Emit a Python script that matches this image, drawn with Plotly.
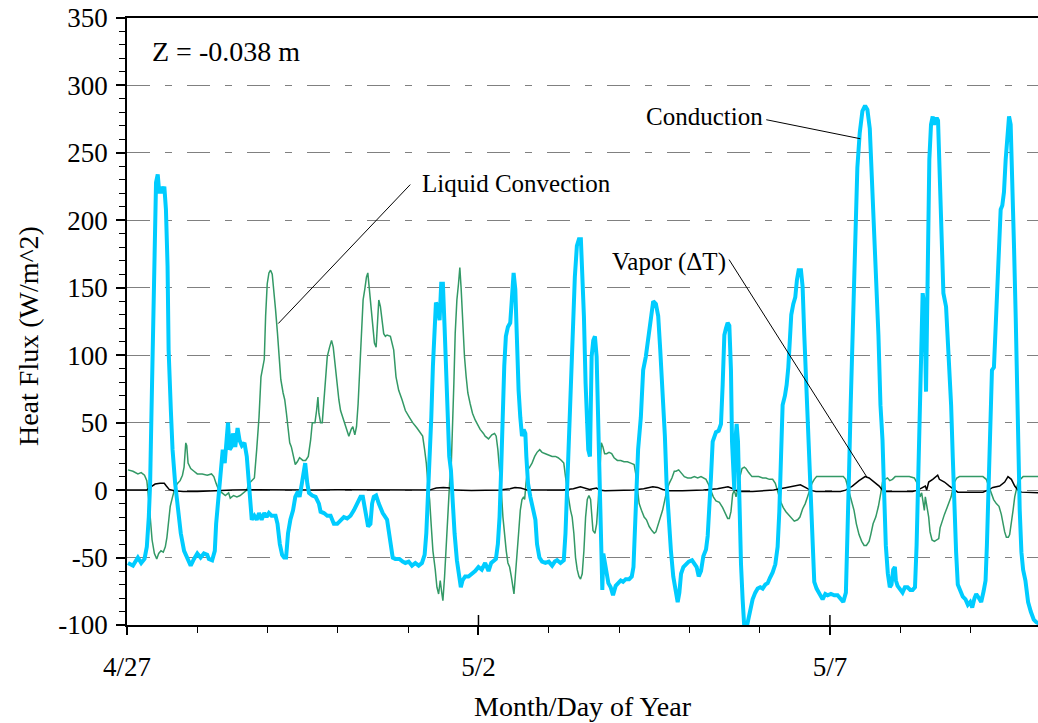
import plotly.graph_objects as go

# ---------------- data (days after 4/27 00:00, heat flux W/m^2) ----------------
cond_day = [0.014,0.085,0.155,0.202,0.249,0.282,0.31,0.329,0.347,0.366,0.38,0.394,0.413,0.437,0.46,0.484,0.507,0.531,0.554,0.577,0.592,0.624,0.648,0.685,0.718,0.765,0.812,0.859,0.906,0.953,1.0,1.047,1.094,1.141,1.164,1.211,1.249,1.268,1.296,1.329,1.362,1.39,1.413,1.437,1.46,1.484,1.507,1.54,1.573,1.601,1.634,1.671,1.704,1.728,1.751,1.775,1.812,1.845,1.878,1.915,1.953,1.986,2.019,2.056,2.113,2.141,2.174,2.207,2.235,2.263,2.291,2.324,2.362,2.394,2.432,2.455,2.488,2.516,2.535,
            2.565,2.589,2.636,2.683,2.73,2.754,2.801,2.849,2.896,2.943,2.991,3.038,3.085,3.132,3.18,3.227,3.274,3.322,3.355,3.392,3.43,3.463,3.487,3.511,3.544,3.582,3.638,3.7,3.747,3.78,3.818,3.875,3.922,3.96,4.007,4.054,4.102,4.149,4.196,4.234,4.258,4.281,4.3,4.329,4.352,4.376,4.395,4.423,4.447,4.47,4.494,4.518,4.541,4.565,4.584,4.608,4.631,4.66,4.693,4.726,4.749,4.773,4.811,4.858,4.905,4.953,5.0,5.047,
            5.095,5.143,5.181,5.214,5.248,5.276,5.3,5.324,5.343,5.367,5.39,5.419,5.452,5.476,5.5,5.524,5.548,5.571,5.595,5.619,5.643,5.667,5.681,5.705,5.738,5.776,5.81,5.833,5.867,5.905,5.952,6.0,6.048,6.086,6.119,6.167,6.214,6.238,6.262,6.286,6.314,6.343,6.371,6.4,6.429,6.457,6.476,6.5,6.524,6.543,6.562,6.586,6.61,6.633,6.657,6.681,6.705,6.729,6.748,6.762,6.776,6.8,6.824,6.848,6.881,6.914,6.952,6.99,7.024,7.057,7.095,7.143,7.181,7.205,7.224,7.248,7.271,7.31,7.343,7.381,7.419,7.452,7.486,7.524,7.557,7.586,7.619,7.652,7.676,7.705,7.738,7.771,7.81,
            7.834,7.858,7.882,7.915,7.953,7.991,8.038,8.071,8.104,8.133,8.166,8.199,8.237,8.261,8.284,8.308,8.332,8.355,8.379,8.417,8.45,8.474,8.498,8.521,8.545,8.569,8.592,8.607,8.626,8.64,8.654,8.673,8.692,8.711,8.735,8.758,8.782,8.806,8.829,8.853,8.877,8.9,8.938,8.972,9.009,9.043,9.081,9.114,9.147,9.185,9.223,9.256,9.28,9.303,9.327,9.36,9.384,9.408,9.431,9.45,9.479,9.507,9.531,9.555,9.588,9.611,9.635,9.659,9.682,9.706,9.73,9.754,9.777,9.81,9.848,9.896,9.934,9.967,10.014,10.062,10.109,10.156,10.19,10.227,
            10.248,10.271,10.295,10.319,10.343,10.367,10.39,10.424,10.462,10.5,10.533,10.567,10.595,10.629,10.662,10.69,10.719,10.748,10.771,10.795,10.824,10.852,10.876,10.9,10.924,10.938,10.962,10.995,11.033,11.067,11.105,11.143,11.176,11.21,11.233,11.257,11.281,11.305,11.319,11.333,11.352,11.367,11.381,11.395,11.414,11.438,11.462,11.481,11.5,11.519,11.538,11.557,11.581,11.614,11.652,11.676,11.7,11.724,11.748,11.771,11.795,11.819,11.857,11.89,11.929,11.962,11.995,12.024,12.057,12.081,12.119,12.152,12.186,12.214,12.233,12.262,12.281,12.305,12.333,12.352,12.376,12.405,12.429,12.452,12.476,12.5,12.524,12.548,12.571,12.595,12.619,12.643,12.662,12.681,12.7,12.724,12.748,12.781,12.819,12.857,12.9,12.938,12.981]
cond_val = [-54,-56,-50,-54,-51,-42,-20,5,54,104,153,203,228,234,220,225,220,225,208,166,104,59,30,5,-10,-32,-45,-50,-56,-51,-47,-50,-47,-48,-51,-52,-45,-25,-7,15,30,20,35,50,30,32,42,32,46,37,33,35,25,10,-5,-22,-19,-22,-17,-22,-17,-20,-17,-19,-19,-25,-40,-48,-50,-50,-32,-22,-15,-5,-1,-5,5,15,20,
            5,-2,-4,-5,-10,-16,-17,-19,-19,-25,-25,-22,-20,-21,-19,-15,-10,-5,-5,-15,-27,-25,-10,-5,-4,-10,-17,-22,-37,-50,-51,-51,-53,-54,-53,-56,-54,-56,-54,-48,-32,-7,15,54,92,121,139,136,126,153,153,121,79,35,25,15,-7,-32,-52,-64,-72,-67,-64,-64,-62,-60,-57,-59,
            -54,-60,-54,-52,-51,-40,-20,17,54,92,114,121,124,141,161,149,104,74,54,40,45,42,25,5,-5,-15,-22,-40,-50,-53,-54,-53,-56,-53,-52,-54,-52,-32,5,30,79,116,158,181,186,186,166,129,79,42,30,25,99,111,114,99,54,5,-32,-74,-47,-54,-62,-69,-72,-78,-71,-69,-67,-68,-66,-66,-64,-57,-32,5,30,54,89,99,114,129,140,138,129,104,74,40,5,-20,-45,-64,-79,
            -83,-76,-62,-57,-55,-53,-52,-55,-57,-64,-60,-49,-44,-34,-16,10,36,40,43,44,49,78,115,120,124,122,89,36,3,0,36,49,36,-16,-55,-81,-102,-104,-99,-91,-86,-81,-76,-73,-72,-73,-70,-69,-65,-61,-55,-42,-16,36,63,70,78,91,115,130,138,143,156,163,163,151,115,83,63,36,-3,-42,-68,-73,-76,-81,-77,-78,-77,-78,-78,-81,-83,-76,
            -41,11,63,115,167,206,239,265,281,285,282,268,232,193,164,115,63,37,-2,-41,-62,-72,-70,-59,-57,-67,-71,-74,-76,-72,-72,-74,-74,-72,-41,11,63,115,146,141,115,73,115,193,245,271,277,271,275,276,274,245,193,146,136,115,89,63,24,-15,-46,-70,-75,-79,-81,-85,-83,-87,-80,-77,-80,-83,-75,-67,-41,11,63,89,91,115,141,180,208,211,221,245,265,277,271,232,180,128,76,24,-15,-46,-59,-67,-83,-90,-96,-98,-99]

liq_day = [0.014,0.085,0.155,0.202,0.249,0.282,0.31,0.333,0.357,0.39,0.423,0.451,0.484,0.516,0.545,0.568,0.592,0.615,0.648,0.685,0.718,0.756,0.789,0.812,0.836,0.85,0.869,0.906,0.953,1.0,1.07,1.141,1.202,1.235,1.268,1.305,1.352,1.399,1.446,1.469,1.516,1.563,1.61,1.657,1.704,1.737,1.775,1.812,1.845,1.878,1.906,1.93,1.953,1.972,1.995,2.019,2.042,2.066,2.089,2.113,2.141,2.164,2.188,2.221,2.244,2.268,2.291,2.315,2.338,2.362,2.394,2.423,2.455,2.502,
           2.541,2.579,2.612,2.636,2.674,2.697,2.716,2.73,2.754,2.778,2.801,2.825,2.849,2.882,2.91,2.934,2.957,2.991,3.014,3.038,3.071,3.099,3.132,3.156,3.189,3.213,3.241,3.265,3.288,3.312,3.336,3.359,3.383,3.407,3.426,3.449,3.473,3.496,3.52,3.544,3.563,3.582,3.605,3.629,3.652,3.676,3.7,3.747,3.771,3.794,3.827,3.865,3.913,3.96,4.017,4.064,4.125,4.173,4.206,4.234,4.258,4.281,4.305,4.329,4.352,4.385,4.409,4.433,4.456,4.48,4.494,4.518,4.537,4.565,4.589,4.612,4.631,4.65,4.669,4.693,4.716,4.735,4.754,4.773,4.801,4.825,4.849,4.882,4.915,4.953,4.991,5.024,5.071,
           5.095,5.143,5.19,5.229,5.252,5.276,5.3,5.324,5.348,5.371,5.395,5.419,5.443,5.467,5.49,5.505,5.524,5.548,5.571,5.595,5.619,5.643,5.657,5.676,5.7,5.729,5.762,5.8,5.833,5.871,5.905,5.952,6.0,6.048,6.095,6.133,6.181,6.214,6.238,6.262,6.286,6.31,6.333,6.357,6.381,6.405,6.429,6.452,6.476,6.5,6.524,6.548,6.571,6.595,6.61,6.629,6.657,6.681,6.705,6.729,6.748,6.771,6.795,6.824,6.857,6.895,6.929,6.976,7.024,7.071,7.119,7.167,7.214,7.238,7.262,7.286,7.319,7.357,7.39,7.429,7.467,7.5,7.524,7.548,7.581,7.619,7.652,7.681,7.714,7.752,7.786,
           7.81,7.848,7.882,7.929,7.976,8.024,8.071,8.118,8.166,8.199,8.237,8.275,8.308,8.341,8.379,8.427,8.474,8.512,8.545,8.569,8.592,8.616,8.64,8.664,8.687,8.72,8.749,8.782,8.806,8.844,8.891,8.938,8.986,9.043,9.09,9.137,9.185,9.223,9.256,9.28,9.303,9.336,9.374,9.408,9.445,9.493,9.54,9.573,9.611,9.649,9.682,9.716,9.744,9.777,9.81,9.848,9.896,9.943,9.991,10.038,10.085,10.133,10.19,10.224,
           10.248,10.271,10.31,10.343,10.376,10.414,10.452,10.486,10.519,10.557,10.581,10.614,10.652,10.69,10.724,10.748,10.786,10.819,10.852,10.89,10.929,10.986,11.057,11.129,11.2,11.233,11.262,11.281,11.305,11.329,11.343,11.357,11.376,11.405,11.424,11.452,11.486,11.519,11.548,11.567,11.595,11.629,11.652,11.69,11.724,11.748,11.771,11.805,11.843,11.89,11.938,11.986,12.033,12.081,12.129,12.176,12.224,12.262,12.295,12.329,12.367,12.405,12.438,12.462,12.486,12.51,12.538,12.557,12.581,12.605,12.629,12.652,12.676,12.71,12.748,12.795,12.867,12.914,12.981]
liq_val = [15,14,12,13,11,7,-7,-25,-37,-47,-51,-47,-45,-46,-42,-35,-20,-12,-5,2,5,7,11,17,35,33,20,16,14,12,12,11,12,10,5,0,-2,-4,-2,-6,-4,-5,-4,-2,0,5,7,9,30,54,84,92,97,129,153,161,163,160,149,134,116,99,82,72,67,57,45,35,32,27,19,21,24,22,
           22,25,37,50,50,59,69,57,50,50,64,84,99,106,111,106,94,79,67,59,54,50,45,40,45,47,41,47,64,92,116,141,149,158,161,149,134,119,109,106,124,141,136,126,116,114,115,114,109,104,84,74,67,59,54,50,46,42,40,30,20,5,-7,-27,-45,-59,-72,-77,-67,-77,-82,-64,-45,-20,5,17,42,79,116,141,153,165,149,124,99,84,72,64,57,52,48,45,42,
           40,38,41,42,40,30,17,0,-20,-35,-45,-54,-57,-64,-74,-77,-64,-50,-32,-15,-7,-5,-7,5,15,17,20,25,28,30,28,27,26,25,25,24,22,20,10,0,-7,-15,-20,-32,-50,-59,-64,-66,-62,-45,-20,-7,-4,-7,-20,-30,-32,-25,-7,17,35,32,27,27,28,27,24,22,22,21,21,20,19,12,0,-10,-15,-20,-22,-27,-30,-32,-31,-27,-22,-15,-7,0,5,9,14,
           14,15,13,10,9,9,10,9,10,9,8,4,0,-5,-8,-9,-13,-18,-21,-21,-16,-3,0,-5,0,10,16,17,16,13,10,10,10,9,9,8,8,5,0,-5,-9,-13,-16,-18,-21,-23,-22,-20,-14,-10,-5,0,5,8,10,10,10,10,10,10,10,10,10,8,
           3,-2,-10,-15,-25,-33,-38,-41,-41,-38,-33,-25,-20,-12,-2,6,8,9,7,8,10,10,10,10,9,6,1,-5,-2,-10,-15,-5,-10,-20,-31,-37,-38,-37,-36,-28,-23,-18,-15,-10,-5,1,6,9,10,10,10,10,10,10,10,10,8,3,-2,-7,-10,-12,-18,-25,-31,-35,-35,-33,-25,-15,-5,1,6,8,10,10,10,10,10]

vap_day = [0.0,0.28,0.33,0.4,0.47,0.53,0.56,0.6,0.67,0.8,1.0,1.2,1.5,1.8,2.2,2.6,3.0,3.5,4.0,4.3,4.4,4.5,4.6,4.65,4.9,5.3,5.45,5.52,5.6,5.7,6.2,6.35,6.45,6.52,6.58,6.63,6.68,6.72,6.8,7.2,7.35,7.48,7.55,7.62,7.7,7.9,8.2,8.4,8.55,8.62,8.7,8.9,9.2,9.35,9.5,9.58,9.65,9.72,9.8,10.15,10.224,10.319,10.414,10.5,10.557,10.629,10.7,10.748,10.795,10.938,11.176,11.248,11.319,11.357,11.376,11.405,11.462,11.533,11.557,11.629,11.7,11.771,11.819,11.938,12.176,12.248,12.319,12.414,12.486,12.533,12.581,12.629,12.676,12.724,12.981]
vap_val = [0,0,2,4.5,5,5,3,0.5,-0.5,-1,-1,-0.5,0,0.3,0,0,0.2,0,-0.3,0,1.5,2,1.5,0,-0.3,0,1,2,1.5,0,0,1,2.5,1.5,0.5,1,1.5,0,-0.5,0,1,2.5,2,0.5,-0.5,-0.5,0,1,2.5,1,-1,-1,0,1.5,3,4,2,0,-1,-1,0,3,7,10,9,6,3,0,-1,-1,-1,0,2,3,0,6,8,11,8,6,3,0,-1.5,-1.5,-1.5,0,2,3,6,10,8,3,0,-1.5,-2]

x_tick_vals = [0, 5, 10]
x_tick_text = ["4/27", "5/2", "5/7"]
y_tick_vals = [-100, -50, 0, 50, 100, 150, 200, 250, 300, 350]
y_tick_text = ["-100", "-50", "0", "50", "100", "150", "200", "250", "300", "350"]

# leader lines (label end -> point on curve), in data units
leaders = [
    ((4.03, 226.5), (2.152, 123.5)),   # Liquid Convection
    ((9.094, 274.6), (10.431, 260.5)), # Conduction
    ((8.565, 170.9), (10.53, 9.3)),    # Vapor
]

FONT = "Liberation Serif"

fig = go.Figure()
fig.add_trace(go.Scatter(x=liq_day, y=liq_val, mode="lines", name="Liquid Convection",
                         line=dict(color="#339966", width=1.5)))
fig.add_trace(go.Scatter(x=vap_day, y=vap_val, mode="lines", name="Vapor (ΔT)",
                         line=dict(color="#000000", width=1.5)))
fig.add_trace(go.Scatter(x=cond_day, y=cond_val, mode="lines", name="Conduction",
                         line=dict(color="#00CCFF", width=4)))

shapes = []
for (x0, y0), (x1, y1) in leaders:
    shapes.append(dict(type="line", xref="x", yref="y", x0=x0, y0=y0, x1=x1, y1=y1,
                       line=dict(color="black", width=1)))
# upward half of the crossing major x ticks
for tv in x_tick_vals[1:]:
    shapes.append(dict(type="line", xref="x", yref="paper", x0=tv, x1=tv, y0=0, y1=10/607,
                       line=dict(color="black", width=1.5)))

annotations = [
    dict(text="Z = -0.038 m", x=0.33, y=325, xref="x", yref="y", xanchor="left", yanchor="middle",
         showarrow=False, font=dict(size=28, family=FONT)),
    dict(text="Liquid Convection", x=4.17, y=227, xref="x", yref="y", xanchor="left", yanchor="middle",
         showarrow=False, font=dict(size=25, family=FONT)),
    dict(text="Conduction", x=9.08, y=277, xref="x", yref="y", xanchor="right", yanchor="middle",
         showarrow=False, font=dict(size=25, family=FONT)),
    dict(text="Vapor (ΔT)", x=8.554, y=169.4, xref="x", yref="y", xanchor="right", yanchor="middle",
         showarrow=False, font=dict(size=25, family=FONT)),
    dict(text="Month/Day of Year", x=0.5, y=-0.135, xref="paper", yref="paper", xanchor="center",
         yanchor="middle", showarrow=False, font=dict(size=28, family=FONT)),
    dict(text="Heat Flux (W/m^2)", x=-0.1087, y=0.476, xref="paper", yref="paper", xanchor="center",
         yanchor="middle", textangle=-90, showarrow=False, font=dict(size=28, family=FONT)),
]

fig.update_layout(
    width=1038, height=723,
    margin=dict(l=127, r=0, t=18, b=98),
    paper_bgcolor="white", plot_bgcolor="white",
    font=dict(family=FONT, color="black", size=27),
    showlegend=False,
    shapes=shapes,
    annotations=annotations,
    xaxis=dict(range=[0, 12.96], showgrid=False, zeroline=False,
               showline=True, linecolor="black", linewidth=1.5, mirror=True,
               tickmode="array", tickvals=x_tick_vals, ticktext=x_tick_text,
               ticks="outside", ticklen=8, tickwidth=1.5, tickcolor="black",
               ticklabelstandoff=9, tickfont=dict(size=27, family=FONT, color="black"),
               minor=dict(tickmode="linear", tick0=0, dtick=1, ticks="outside",
                          ticklen=6, tickwidth=1, tickcolor="black", showgrid=False)),
    yaxis=dict(range=[-100, 350], zeroline=False,
               showline=True, linecolor="black", linewidth=1.5,
               tickmode="array", tickvals=y_tick_vals, ticktext=y_tick_text,
               ticks="outside", ticklen=9, tickwidth=1.5, tickcolor="black",
               ticklabelstandoff=3, tickfont=dict(size=27, family=FONT, color="black"),
               showgrid=True, gridcolor="#808080", gridwidth=1,
               griddash="23px,15px,7px,15px",
               minor=dict(tickmode="linear", tick0=0, dtick=10, ticks="outside",
                          ticklen=6, tickwidth=1, tickcolor="black", showgrid=False)),
)

fig.write_html("out.html")
